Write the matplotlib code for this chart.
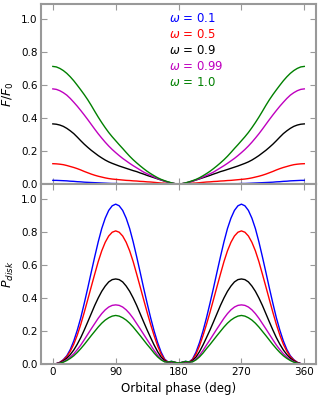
import numpy as np
import matplotlib
matplotlib.use("Agg")
import matplotlib.pyplot as plt

# orbital phase grid (deg), every 5 degrees
phase = np.arange(0, 361, 5)

omega_labels = ["0.1", "0.5", "0.9", "0.99", "1.0"]
colors = ["blue", "red", "black", "m", "green"]

# both panels are symmetric about 180 deg, so values are read for 0..180
# F/F0 (top panel)
flux_01 = [0.022, 0.022, 0.021, 0.020, 0.019, 0.017, 0.016, 0.014, 0.013, 0.011,
           0.010, 0.009, 0.008, 0.007, 0.006, 0.005, 0.004, 0.003, 0.003, 0.002,
           0.002, 0.002, 0.002, 0.001, 0.001, 0.001, 0.001, 0.001, 0.001, 0.000,
           0.000, 0.000, 0.000, 0.000, 0.000, 0.000, 0.000]
flux_05 = [0.123, 0.122, 0.120, 0.117, 0.112, 0.106, 0.100, 0.093, 0.085, 0.076,
           0.068, 0.060, 0.053, 0.047, 0.042, 0.037, 0.033, 0.030, 0.028, 0.026,
           0.024, 0.022, 0.021, 0.019, 0.018, 0.016, 0.015, 0.013, 0.012, 0.010,
           0.008, 0.006, 0.005, 0.003, 0.002, 0.001, 0.000]
flux_09 = [0.364, 0.362, 0.357, 0.349, 0.337, 0.322, 0.305, 0.284, 0.262, 0.241,
           0.222, 0.204, 0.188, 0.172, 0.158, 0.145, 0.134, 0.125, 0.117, 0.109,
           0.102, 0.095, 0.088, 0.081, 0.075, 0.067, 0.060, 0.052, 0.045, 0.038,
           0.031, 0.024, 0.017, 0.011, 0.006, 0.002, 0.000]
flux_099 = [0.576, 0.573, 0.565, 0.553, 0.538, 0.518, 0.495, 0.471, 0.445, 0.418,
            0.390, 0.361, 0.332, 0.304, 0.278, 0.253, 0.230, 0.209, 0.190, 0.172,
            0.155, 0.140, 0.125, 0.111, 0.098, 0.085, 0.072, 0.062, 0.052, 0.042,
            0.033, 0.025, 0.018, 0.011, 0.006, 0.002, 0.000]
flux_10 = [0.712, 0.709, 0.700, 0.687, 0.670, 0.649, 0.625, 0.598, 0.570, 0.541,
           0.510, 0.476, 0.440, 0.405, 0.372, 0.341, 0.312, 0.286, 0.262, 0.238,
           0.215, 0.191, 0.168, 0.147, 0.128, 0.110, 0.093, 0.077, 0.063, 0.050,
           0.038, 0.028, 0.020, 0.013, 0.007, 0.002, 0.000]

# P_disk (bottom panel)
pol_01 = [0.000, 0.002, 0.010, 0.026, 0.050, 0.088, 0.140, 0.205, 0.280, 0.368,
          0.460, 0.556, 0.650, 0.740, 0.820, 0.883, 0.930, 0.958, 0.968, 0.958,
          0.930, 0.883, 0.820, 0.740, 0.650, 0.556, 0.460, 0.368, 0.280, 0.200,
          0.130, 0.072, 0.030, 0.012, 0.016, 0.010, 0.004]
pol_05 = [0.000, 0.002, 0.010, 0.024, 0.045, 0.077, 0.120, 0.175, 0.240, 0.313,
          0.390, 0.468, 0.545, 0.620, 0.685, 0.737, 0.775, 0.798, 0.806, 0.798,
          0.775, 0.737, 0.685, 0.620, 0.545, 0.468, 0.390, 0.313, 0.240, 0.172,
          0.110, 0.060, 0.026, 0.011, 0.014, 0.009, 0.004]
pol_09 = [0.000, 0.002, 0.008, 0.019, 0.035, 0.057, 0.085, 0.120, 0.160, 0.206,
          0.255, 0.305, 0.355, 0.400, 0.440, 0.472, 0.497, 0.511, 0.515, 0.511,
          0.497, 0.472, 0.440, 0.400, 0.355, 0.305, 0.255, 0.206, 0.160, 0.115,
          0.075, 0.042, 0.020, 0.010, 0.013, 0.009, 0.005]
pol_099 = [0.000, 0.002, 0.006, 0.014, 0.026, 0.042, 0.062, 0.087, 0.115, 0.147,
           0.180, 0.213, 0.245, 0.277, 0.305, 0.328, 0.345, 0.355, 0.358, 0.355,
           0.345, 0.328, 0.305, 0.277, 0.245, 0.213, 0.180, 0.147, 0.115, 0.082,
           0.053, 0.030, 0.015, 0.010, 0.014, 0.010, 0.006]
pol_10 = [0.000, 0.001, 0.005, 0.011, 0.021, 0.034, 0.050, 0.070, 0.093, 0.118,
          0.145, 0.172, 0.198, 0.224, 0.247, 0.266, 0.280, 0.290, 0.294, 0.290,
          0.280, 0.266, 0.247, 0.224, 0.198, 0.172, 0.145, 0.118, 0.093, 0.066,
          0.043, 0.025, 0.013, 0.012, 0.016, 0.010, 0.006]


def mirror(half):
    # 0..180 values -> 0..360 curve
    return list(half) + list(half[-2::-1])


flux = [flux_01, flux_05, flux_09, flux_099, flux_10]
pol = [pol_01, pol_05, pol_09, pol_099, pol_10]

xticks = [0, 90, 180, 270, 360]
yticks = [0.0, 0.2, 0.4, 0.6, 0.8, 1.0]
frame_col = "#999999"

fig = plt.figure(figsize=(3.2, 4.0), dpi=100)
ax1 = fig.add_axes([0.128, 0.54, 0.86, 0.45])
ax2 = fig.add_axes([0.128, 0.09, 0.86, 0.45], sharex=ax1)

for f, c in zip(flux, colors):
    ax1.plot(phase, mirror(f), color=c, lw=1.0)
for p, c in zip(pol, colors):
    ax2.plot(phase, mirror(p), color=c, lw=1.0)

# legend written as coloured text
for i, (lab, c) in enumerate(zip(omega_labels, colors)):
    ax1.text(166, 1.0 - i * 0.097, r"$\omega$ = " + lab, color=c,
             fontsize=8.5, va="center", ha="left")

for ax in (ax1, ax2):
    ax.set_xlim(-17, 377)
    ax.set_ylim(0, 1.09)
    ax.set_xticks(xticks)
    ax.set_yticks(yticks)
    ax.tick_params(direction="in", top=True, right=True, length=4,
                   color=frame_col, labelsize=7.5, pad=2.5)
    for s in ax.spines.values():
        s.set_color(frame_col)
        s.set_linewidth(1.5)

ax1.tick_params(labelbottom=False)
ax2.set_xticklabels([str(t) for t in xticks])

ax1.set_ylabel(r"$F/F_0$", fontsize=9)
ax2.set_ylabel(r"$P_{disk}$", fontsize=9)
ax2.set_xlabel("Orbital phase (deg)", fontsize=8.5, labelpad=3)
ax1.yaxis.set_label_coords(-0.09, 0.5)
ax2.yaxis.set_label_coords(-0.09, 0.5)

fig.savefig("out.png", dpi=100)
